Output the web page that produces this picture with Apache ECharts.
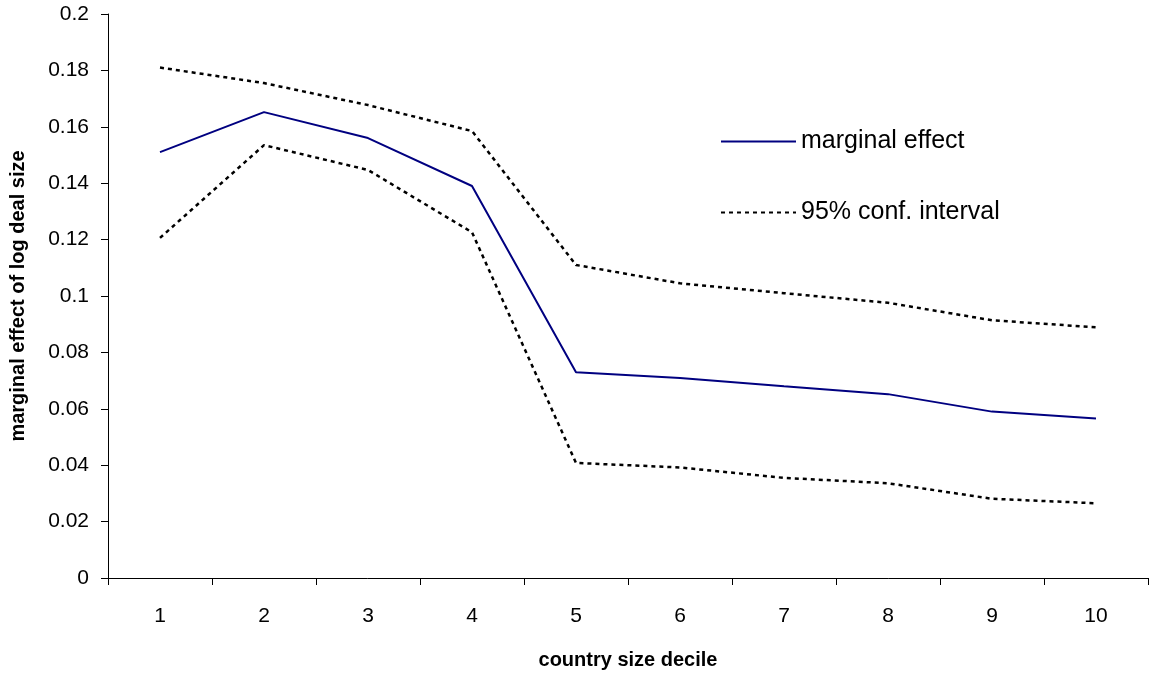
<!DOCTYPE html>
<html>
<head>
<meta charset="utf-8">
<script src="https://cdn.jsdelivr.net/npm/echarts@6/dist/echarts.min.js"></script>
<style>
html,body{margin:0;padding:0;background:#fff;}
#chart{width:1155px;height:673px;}
</style>
</head>
<body>
<div id="chart"></div>
<script>
const categories = ['1','2','3','4','5','6','7','8','9','10'];
const marginalEffect = [0.151, 0.1652, 0.156, 0.139, 0.073, 0.0709, 0.068, 0.0652, 0.059, 0.0566];
const upperCI = [0.181, 0.1755, 0.1677, 0.1585, 0.111, 0.1045, 0.101, 0.0976, 0.0914, 0.0889];
const lowerCI = [0.1206, 0.1535, 0.1447, 0.1226, 0.0408, 0.0392, 0.0355, 0.0336, 0.0281, 0.0265];
const seriesNames = ['marginal effect', '95% conf. interval'];
const xTitle = 'country size decile';
const yTitle = 'marginal effect of log deal size';

const font = 'Arial, "Liberation Sans", sans-serif';
const legendBase = {
  orient: 'vertical', padding: 0,
  itemWidth: 75, itemHeight: 14, itemGap: 6,
  itemStyle: { opacity: 0 },
  textStyle: { fontFamily: font, fontSize: 25, color: '#000' },
  selectedMode: false
};
const chart = echarts.init(document.getElementById('chart'));
chart.setOption({
  animation: false,
  backgroundColor: '#ffffff',
  textStyle: { fontFamily: font, color: '#000' },
  grid: { left: 108, right: 7, top: 14, bottom: 95, containLabel: false, outerBoundsMode: 'none' },
  legend: [
    Object.assign({}, legendBase, { data: [{ name: seriesNames[0] }], left: 720, top: 129 }),
    Object.assign({}, legendBase, { data: [{ name: seriesNames[1] }], left: 720, top: 200 })
  ],
  xAxis: {
    type: 'category',
    data: categories,
    boundaryGap: true,
    name: xTitle,
    nameLocation: 'middle',
    nameGap: 72,
    nameTextStyle: { fontFamily: font, fontSize: 20, fontWeight: 'bold', color: '#000' },
    axisLine: { show: true, lineStyle: { color: '#000', width: 1 } },
    axisTick: { show: true, alignWithLabel: false, length: 7, lineStyle: { color: '#000' } },
    axisLabel: { fontFamily: font, fontSize: 21, color: '#000', margin: 28 },
    splitLine: { show: false }
  },
  yAxis: {
    type: 'value',
    min: 0, max: 0.2, interval: 0.02,
    name: yTitle,
    nameLocation: 'middle',
    nameGap: 80,
    nameRotate: 90,
    nameTextStyle: { fontFamily: font, fontSize: 20, fontWeight: 'bold', color: '#000' },
    axisLine: { show: true, lineStyle: { color: '#000', width: 1 } },
    axisTick: { show: true, length: 7, lineStyle: { color: '#000' } },
    axisLabel: { fontFamily: font, fontSize: 21, color: '#000', margin: 19,
      formatter: v => String(parseFloat(v.toFixed(2))) },
    splitLine: { show: false }
  },
  series: [
    {
      name: seriesNames[0], type: 'line', data: marginalEffect,
      symbol: 'none', lineStyle: { color: '#000080', width: 2 }, itemStyle: { color: '#000080' }
    },
    {
      name: seriesNames[1], type: 'line', data: upperCI,
      symbol: 'none', lineStyle: { color: '#000', width: 2.5, type: [4, 4] }, itemStyle: { color: '#000' }
    },
    {
      name: seriesNames[1], type: 'line', data: lowerCI,
      symbol: 'none', lineStyle: { color: '#000', width: 2.5, type: [4, 4] }, itemStyle: { color: '#000' }
    }
  ]
});
</script>
</body>
</html>
